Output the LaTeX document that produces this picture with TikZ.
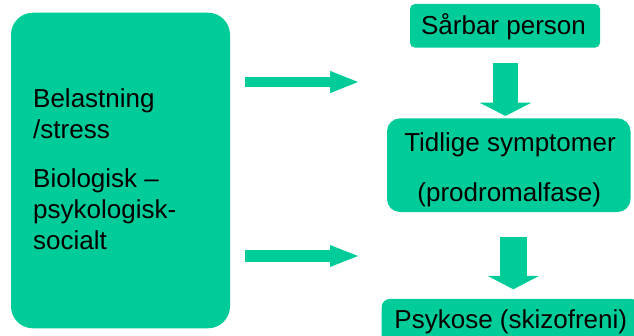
\documentclass[tikz,border=0pt]{standalone}
\usepackage{fontspec}
\setmainfont{Liberation Sans}
\usetikzlibrary{arrows.meta}
\definecolor{grn}{HTML}{00CC99}
\tikzset{
  box/.style={fill=grn, draw=none, inner sep=0pt},
  txt/.style={anchor=base, inner sep=0pt, font=\fontsize{26}{30}\selectfont},
  ltxt/.style={anchor=base west, inner sep=0pt, font=\fontsize{26}{30}\selectfont},
  blockarrow/.style={draw=grn, line width=#1},
}
\begin{document}
\begin{tikzpicture}[x=1pt,y=-1pt]
\useasboundingbox (0,0) rectangle (634,336);
\clip (0,0) rectangle (634,336);
% left box
\node[box, rounded corners=22pt, minimum width=219pt, minimum height=315.6pt] (left) at (120.5,170.5) {};
\node[ltxt] (l1) at (33,108) {Belastning};
\node[ltxt] (l2) at (33,138.3) {/stress};
\node[ltxt] (l3) at (33,187.7) {Biologisk –};
\node[ltxt] (l4) at (33,218.3) {psykologisk-};
\node[ltxt] (l5) at (33,250) {socialt};
% right boxes
\node[box, rounded corners=5pt, minimum width=190pt, minimum height=43.7pt] (sarbar) at (505,25.85) {};
\node[txt] (t1) at (503.5,35) {Sårbar person};
\node[box, rounded corners=13pt, minimum width=243.5pt, minimum height=93.7pt] (tidlige) at (508.75,165.2) {};
\node[txt] (t2) at (510,151.7) {Tidlige symptomer};
\node[txt] (t3) at (509.2,201.7) {(prodromalfase)};
\node[box, rounded corners=8pt, minimum width=258pt, minimum height=52pt] (psykose) at (510.7,325) {};
\node[txt] (t4) at (510.8,329) {Psykose (skizofreni)};
% arrows
\coordinate (r1s) at (245,82);   \coordinate (r1e) at (358,82);
\coordinate (r2s) at (245,256);  \coordinate (r2e) at (358,256);
\coordinate (d1s) at (505.5,63.3); \coordinate (d1e) at (505.5,116);
\coordinate (d2s) at (513.3,236.7); \coordinate (d2e) at (513.3,289.3);
\draw[blockarrow=10.7pt, -{Triangle[width=22.3pt,length=28pt,line width=0pt]}, grn] (r1s) -- (r1e);
\draw[blockarrow=11.7pt, -{Triangle[width=22pt,length=28pt,line width=0pt]}, grn] (r2s) -- (r2e);
\draw[blockarrow=25.7pt, -{Triangle[width=51.7pt,length=13.3pt,line width=0pt]}, grn] (d1s) -- (d1e);
\draw[blockarrow=26.7pt, -{Triangle[width=51pt,length=13.3pt,line width=0pt]}, grn] (d2s) -- (d2e);
\end{tikzpicture}
\end{document}
